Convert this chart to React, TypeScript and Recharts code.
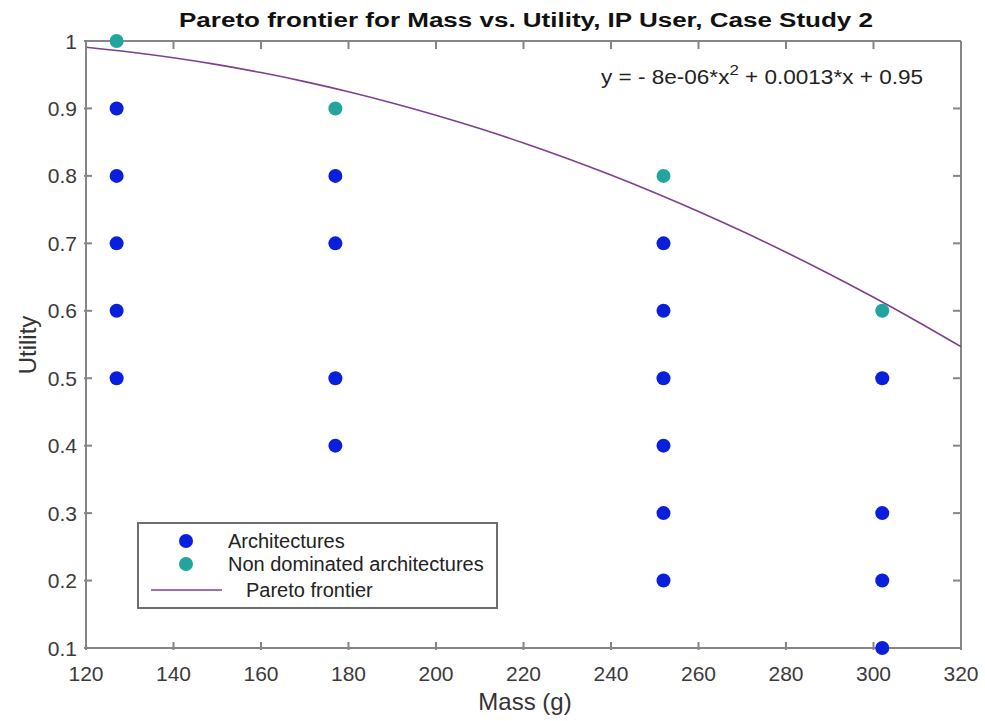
import React from "react";
import { ComposedChart, Scatter, Line, XAxis, YAxis } from "recharts";

// Design points, grouped by mass (g)
const masses = [127, 177, 252, 302];
const architectureUtility = [
  [0.9, 0.8, 0.7, 0.6, 0.5],
  [0.8, 0.7, 0.5, 0.4],
  [0.7, 0.6, 0.5, 0.4, 0.3, 0.2],
  [0.5, 0.3, 0.2, 0.1],
];
const nonDominatedUtility = [1.0, 0.9, 0.8, 0.6];

// Quadratic fit y = -8e-06*x^2 + 0.0013*x + 0.95, tabulated every 10 g
const frontierMass = [120, 130, 140, 150, 160, 170, 180, 190, 200, 210, 220, 230, 240, 250, 260, 270, 280, 290, 300, 310, 320];
const frontierUtility = [
  0.9908, 0.9838, 0.9752, 0.965, 0.9532, 0.9398, 0.9248, 0.9082, 0.89, 0.8702, 0.8488,
  0.8258, 0.8012, 0.775, 0.7472, 0.7178, 0.6868, 0.6542, 0.62, 0.5842, 0.5468,
];

const xTicks = [120, 140, 160, 180, 200, 220, 240, 260, 280, 300, 320];
const yTicks = [0.1, 0.2, 0.3, 0.4, 0.5, 0.6, 0.7, 0.8, 0.9, 1];

const TITLE = "Pareto frontier for Mass vs. Utility, IP User, Case Study 2";
const LEGEND = ["Architectures", "Non dominated architectures", "Pareto frontier"];

const BLUE = "#0a1fdc";
const TEAL = "#23a59e";
const PURPLE = "#7d3f90";
const AXIS = "#858585";
const FONT = "'Liberation Sans', Arial, Helvetica, sans-serif";

const architectures = masses.flatMap((m, i) => architectureUtility[i].map((u) => ({ mass: m, utility: u })));
const nonDominated = masses.map((m, i) => ({ mass: m, utility: nonDominatedUtility[i] }));
const frontier = frontierMass.map((m, i) => ({ mass: m, utility: frontierUtility[i] }));

const TICK_LEN = 8;

// Tick marks point inward on all four sides of the box; the bottom and left
// ticks also draw their labels, and draw the mirrored tick on the far side.
const BottomTick = (props: any) => {
  const { x, y, payload, plotTop } = props;
  return (
    <g>
      <line x1={x} y1={y} x2={x} y2={y - TICK_LEN} stroke={AXIS} strokeWidth={2} />
      <line x1={x} y1={plotTop} x2={x} y2={plotTop + TICK_LEN} stroke={AXIS} strokeWidth={2} />
      <text x={x} y={y + 31} textAnchor="middle" fontSize={21} fill="#3a3a3a" fontFamily={FONT}>
        {payload.value}
      </text>
    </g>
  );
};

const LeftTick = (props: any) => {
  const { x, y, payload, plotRight } = props;
  return (
    <g>
      <line x1={x} y1={y} x2={x + TICK_LEN} y2={y} stroke={AXIS} strokeWidth={2} />
      <line x1={plotRight} y1={y} x2={plotRight - TICK_LEN} y2={y} stroke={AXIS} strokeWidth={2} />
      <text x={x - 7} y={y} dy="0.36em" textAnchor="end" fontSize={21} fill="#3a3a3a" fontFamily={FONT}>
        {String(payload.value)}
      </text>
    </g>
  );
};

const dot = (color: string) => (props: any) => <circle cx={props.cx} cy={props.cy} r={7} fill={color} />;

const W = 985;
const H = 721;
const M = { top: 41, right: 24, bottom: 0, left: 0 };
const Y_AXIS_W = 86;
const X_AXIS_H = 73;
const PLOT_TOP = M.top;
const PLOT_RIGHT = W - M.right;

export default function App() {
  return (
    <div style={{ position: "absolute", left: 0, top: 0, width: W, height: H, background: "#fff" }}>
      {/* top and right edges of the axes box, kept under the markers */}
      <svg width={W} height={H} style={{ position: "absolute", left: 0, top: 0 }}>
        <line x1={Y_AXIS_W} y1={PLOT_TOP} x2={PLOT_RIGHT} y2={PLOT_TOP} stroke={AXIS} strokeWidth={2} />
        <line x1={PLOT_RIGHT} y1={PLOT_TOP} x2={PLOT_RIGHT} y2={H - X_AXIS_H} stroke={AXIS} strokeWidth={2} />
      </svg>

      <ComposedChart width={W} height={H} margin={M}>
        <XAxis
          dataKey="mass"
          type="number"
          domain={[120, 320]}
          ticks={xTicks}
          height={X_AXIS_H}
          tickSize={0}
          tickLine={false}
          axisLine={{ stroke: AXIS, strokeWidth: 2 }}
          tick={<BottomTick plotTop={PLOT_TOP} />}
          interval={0}
        />
        <YAxis
          dataKey="utility"
          type="number"
          domain={[0.1, 1]}
          ticks={yTicks}
          width={Y_AXIS_W}
          tickSize={0}
          tickLine={false}
          axisLine={{ stroke: AXIS, strokeWidth: 2 }}
          tick={<LeftTick plotRight={PLOT_RIGHT} />}
          interval={0}
        />
        <Line
          data={frontier}
          dataKey="utility"
          type="monotone"
          stroke={PURPLE}
          strokeWidth={1.6}
          dot={false}
          activeDot={false}
          isAnimationActive={false}
        />
        <Scatter data={architectures} dataKey="utility" shape={dot(BLUE)} isAnimationActive={false} />
        <Scatter data={nonDominated} dataKey="utility" shape={dot(TEAL)} isAnimationActive={false} />
      </ComposedChart>

      <svg width={W} height={H} style={{ position: "absolute", left: 0, top: 0, pointerEvents: "none" }}>
        <text x={526} y={27} textAnchor="middle" fontSize={20} fontWeight="bold" fill="#111" fontFamily={FONT} textLength={694} lengthAdjust="spacingAndGlyphs">
          {TITLE}
        </text>
        <text x={601} y={84} fontSize={20} fill="#222" fontFamily={FONT} textLength={322} lengthAdjust="spacingAndGlyphs">
          y = - 8e-06*x
          <tspan dy={-9} fontSize={15}>2</tspan>
          <tspan dy={9}> + 0.0013*x + 0.95</tspan>
        </text>
        <text x={525} y={710} textAnchor="middle" fontSize={24} fill="#333" fontFamily={FONT}>
          Mass (g)
        </text>
        <text x={36} y={345} textAnchor="middle" fontSize={24} fill="#333" fontFamily={FONT} transform="rotate(-90 36 345)">
          Utility
        </text>

        <rect x={138} y={523} width={359} height={85} fill="#fff" stroke="#6e6e6e" strokeWidth={2} />
        <circle cx={186} cy={541} r={7} fill={BLUE} />
        <circle cx={186} cy={564} r={7} fill={TEAL} />
        <line x1={151} y1={590} x2={222} y2={590} stroke={PURPLE} strokeWidth={1.6} />
        <text x={228} y={548} fontSize={20} fill="#222" fontFamily={FONT}>{LEGEND[0]}</text>
        <text x={228} y={571} fontSize={20} fill="#222" fontFamily={FONT}>{LEGEND[1]}</text>
        <text x={246} y={597} fontSize={20} fill="#222" fontFamily={FONT}>{LEGEND[2]}</text>
      </svg>
    </div>
  );
}
